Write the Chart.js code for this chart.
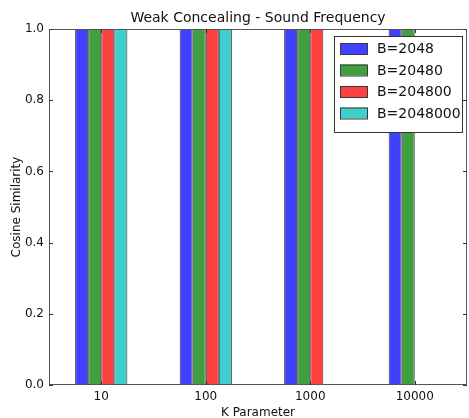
<!DOCTYPE html>
<html>
<head>
<meta charset="utf-8">
<script src="https://cdn.jsdelivr.net/npm/chart.js@4.4.1/dist/chart.umd.min.js"></script>
<style>
  html, body { margin: 0; padding: 0; background: #fff; }
  #wrap { width: 469px; height: 418px; }
</style>
</head>
<body>
<div id="wrap"><canvas id="c" width="469" height="418"></canvas></div>
<script>
// K parameter values on the x axis
const kParams = ['10', '100', '1000', '10000'];
// Cosine similarity for each B setting
const b2048 = [1.0, 1.0, 1.0, 1.0];
const b20480 = [1.0, 1.0, 1.0, 1.0];
const b204800 = [1.0, 1.0, 1.0, 0.0];
const b2048000 = [1.0, 1.0, 0.0, 0.0];
const seriesNames = ['B=2048', 'B=20480', 'B=204800', 'B=2048000'];
const yTicks = [0.0, 0.2, 0.4, 0.6, 0.8, 1.0];

const FONT = '"DejaVu Sans", sans-serif';
const fills = ['#4040ff', '#40a040', '#ff4040', '#40cfcf'];
const edge = '#3a3a3a';

// Title over the plot area, frame, inward tick marks on all four sides
const framePlugin = {
  id: 'frame',
  afterDraw(chart) {
    const { ctx, chartArea: a, scales } = chart;
    ctx.save();
    ctx.fillStyle = '#111';
    ctx.font = '14px ' + FONT;
    ctx.textAlign = 'center';
    ctx.textBaseline = 'middle';
    ctx.fillText('Weak Concealing - Sound Frequency', (a.left + a.right) / 2, 18);

    ctx.strokeStyle = '#555';
    ctx.lineWidth = 1;
    ctx.strokeRect(a.left + 0.5, a.top + 0.5, a.right - a.left - 1, a.bottom - a.top - 1);

    ctx.strokeStyle = '#333';
    const L = 4;
    ctx.beginPath();
    scales.y.ticks.forEach((t, i) => {
      const y = Math.round(scales.y.getPixelForTick(i)) + 0.5;
      ctx.moveTo(a.left, y); ctx.lineTo(a.left + L, y);
      ctx.moveTo(a.right, y); ctx.lineTo(a.right - L, y);
    });
    scales.x.ticks.forEach((t, i) => {
      const x = Math.round(scales.x.getPixelForTick(i)) + 0.5;
      ctx.moveTo(x, a.bottom); ctx.lineTo(x, a.bottom - L);
      ctx.moveTo(x, a.top); ctx.lineTo(x, a.top + L);
    });
    ctx.stroke();
    ctx.restore();
  }
};

// Framed legend in the upper right corner of the plot
const boxLegend = {
  id: 'boxLegend',
  afterDatasetsDraw(chart) {
    const { ctx, chartArea: a } = chart;
    const sets = chart.data.datasets;
    const w = 128, rowH = 21.5;
    const h = 10 + rowH * sets.length;
    const x0 = a.right - 5 - w, y0 = a.top + 7;
    ctx.save();
    ctx.fillStyle = '#fff';
    ctx.fillRect(x0, y0, w, h);
    ctx.strokeStyle = '#333';
    ctx.lineWidth = 1;
    ctx.strokeRect(x0 + 0.5, y0 + 0.5, w, h);
    ctx.font = '14px ' + FONT;
    ctx.textBaseline = 'middle';
    ctx.textAlign = 'left';
    sets.forEach((ds, i) => {
      const cy = y0 + 12.5 + i * rowH;
      ctx.fillStyle = ds.backgroundColor;
      ctx.fillRect(x0 + 6, cy - 5.5, 27, 11);
      ctx.strokeStyle = edge;
      ctx.strokeRect(x0 + 6.5, cy - 5, 27, 11);
      ctx.fillStyle = '#111';
      ctx.fillText(ds.label, x0 + 43, cy + 1);
    });
    ctx.restore();
  }
};

const valueSets = [b2048, b20480, b204800, b2048000];

new Chart(document.getElementById('c'), {
  type: 'bar',
  data: {
    labels: kParams,
    datasets: valueSets.map((vals, i) => ({
      label: seriesNames[i],
      data: vals,
      backgroundColor: fills[i],
      borderColor: edge,
      borderWidth: 1,
      borderSkipped: false,
      categoryPercentage: 0.5,
      barPercentage: 1.0
    }))
  },
  options: {
    responsive: false,
    animation: false,
    devicePixelRatio: 1,
    layout: { padding: { top: 29, right: 2, left: 0, bottom: 0 } },
    plugins: {
      legend: { display: false },
      title: { display: false },
      tooltip: { enabled: false }
    },
    scales: {
      x: {
        grid: { display: false, drawTicks: false },
        border: { display: false },
        ticks: { color: '#111', font: { family: FONT, size: 12 }, padding: 5, maxRotation: 0 },
        title: { display: true, text: 'K Parameter', color: '#111', font: { family: FONT, size: 12, lineHeight: 1 }, padding: { top: 5, bottom: -1 } },
        afterFit(s) { s.height = 33; }
      },
      y: {
        min: 0, max: 1,
        afterBuildTicks(s) { s.ticks = yTicks.map(v => ({ value: v })); },
        grid: { display: false, drawTicks: false },
        border: { display: false },
        ticks: { color: '#111', font: { family: FONT, size: 12 }, padding: 5,
                 callback: v => Number(v).toFixed(1) },
        title: { display: true, text: 'Cosine Similarity', color: '#111', font: { family: FONT, size: 12 }, padding: { top: 10, bottom: 0 } },
        afterFit(s) { s.width = 49; }
      }
    }
  },
  plugins: [framePlugin, boxLegend]
});
</script>
</body>
</html>
